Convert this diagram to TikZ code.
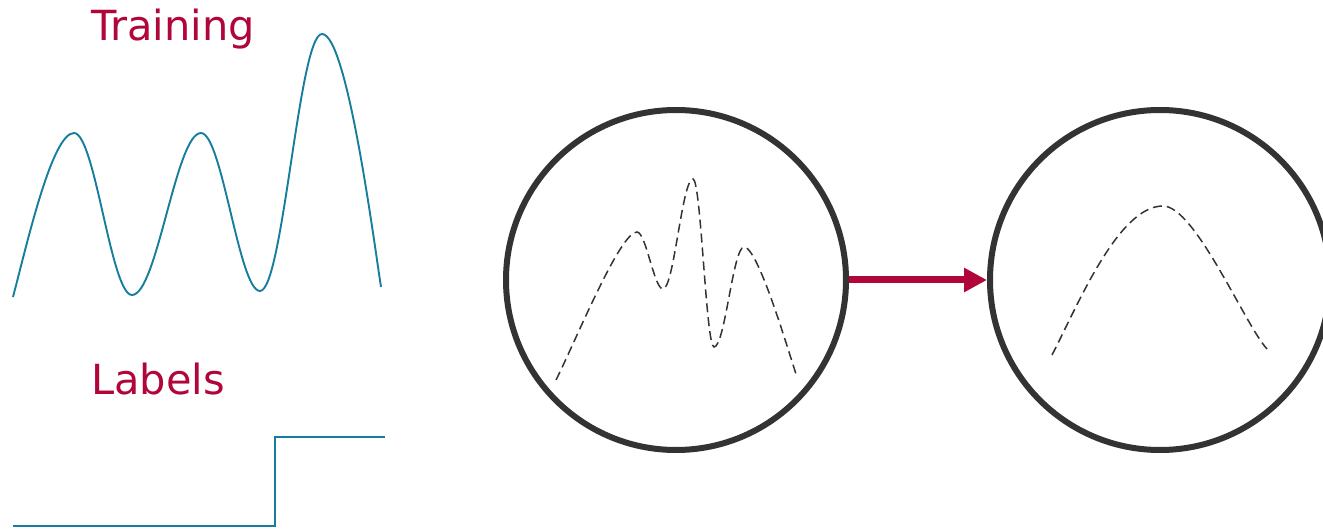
\documentclass[tikz,border=0pt]{standalone}
\usepackage{fontspec}
\setmainfont{DejaVu Sans}
\usetikzlibrary{arrows.meta, positioning}
\definecolor{crimson}{HTML}{B0063A}
\definecolor{teal}{HTML}{167D9C}
\definecolor{ring}{HTML}{333333}

\begin{document}
\begin{tikzpicture}[x=1pt, y=-1pt,
  title/.style={text=crimson, font=\fontsize{41.5}{48}\selectfont, inner sep=0pt, anchor=base west},
  signal/.style={teal, line width=1.9pt},
  lens/.style={circle, draw=ring, line width=6pt, minimum size=340pt, inner sep=0pt},
  fit curve/.style={ring, line width=1.5pt, dash pattern=on 9pt off 5pt},
  push/.style={crimson, line width=7pt, -{Triangle[length=23pt, width=23pt]}}]
  \useasboundingbox (0,0) rectangle (1323,529);

  % training signal
  \node[title] (train) at (91,41) {Training};
  \draw[signal] (13,297) .. controls (27,244) and (52,133) .. (74,133)
    .. controls (95,133) and (111,295) .. (132,295)
    .. controls (157,295) and (176,133) .. (201,133)
    .. controls (222,133) and (239,291) .. (260,291)
    .. controls (283,291) and (299,34) .. (322,34)
    .. controls (347,34) and (374,242) .. (381,287);

  % labels
  \node[title] (lab) at (91,395) {Labels};
  \draw[signal] (13,526) -- (275,526) -- (275,437) -- (385,437);

  % before and after
  \node[lens] (noisy) at (676,280) {};
  \node[lens] (smooth) at (1160,280) {};
  \draw[push] (noisy) -- (smooth);

  \draw[fit curve] (556,380) .. controls (576,340) and (620,232) .. (637,232)
    .. controls (646,232) and (654,289) .. (663,289)
    .. controls (674,289) and (682,179) .. (693,179)
    .. controls (701,179) and (706,347) .. (714,347)
    .. controls (725,347) and (733,247) .. (744,247)
    .. controls (758,247) and (788,350) .. (796,374);
  \draw[fit curve] (1052,355) .. controls (1077,307) and (1118,206) .. (1163,206)
    .. controls (1195,206) and (1245,325) .. (1267,349);
\end{tikzpicture}
\end{document}
